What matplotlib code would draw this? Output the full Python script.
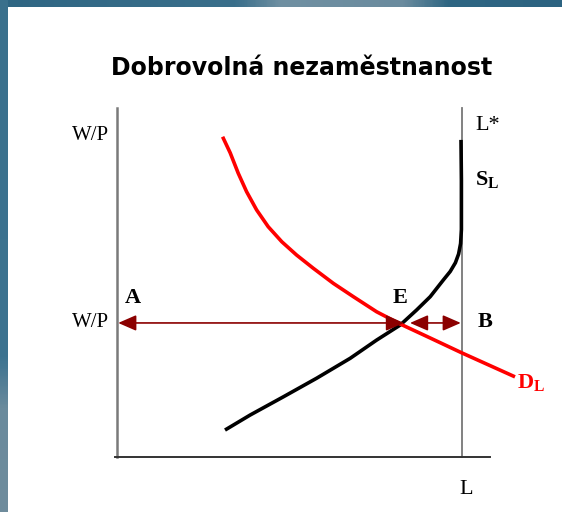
import numpy as np
import matplotlib.pyplot as plt
from matplotlib.colors import LinearSegmentedColormap

plt.rcParams['mathtext.fontset'] = 'custom'
plt.rcParams['mathtext.rm'] = 'Liberation Serif'
plt.rcParams['mathtext.bf'] = 'Liberation Serif:bold'

# Curve data (L on x axis, W/P on y axis, both 0..100)
sl_x = [27.0, 33.3, 41.6, 49.9, 58.3, 64.9, 70.8, 74.9, 78.3, 81.6, 83.3,
        84.6, 85.4, 85.9, 86.1, 86.1, 86.1, 86.0]
sl_y = [7.7, 12.0, 17.2, 22.5, 28.2, 33.4, 37.7, 42.0, 45.8, 50.6, 53.0,
        55.5, 58.0, 61.0, 65.0, 70.0, 79.1, 90.6]

dl_x = [26.4, 28.3, 30.3, 32.4, 34.9, 37.8, 41.2, 44.9, 49.1, 54.1, 59.1,
        64.9, 70.8, 78.3, 86.3, 99.5]
dl_y = [91.5, 86.9, 81.1, 75.8, 70.6, 65.8, 61.5, 57.7, 53.9, 49.6, 45.8,
        41.5, 38.0, 34.0, 29.7, 22.9]

l_star = 86.25      # full employment L*
wage = 38.3         # real wage W/P level
e_x = 70.75         # equilibrium employment

title = "Dobrovolná nezaměstnanost"

fig = plt.figure(figsize=(5.62, 5.12), dpi=100)
fig.patch.set_facecolor('white')

# background frame (blue strips at top and left)
bg = fig.add_axes([0, 0, 1, 1], zorder=-1)
bg.set_xlim(0, 562)
bg.set_ylim(512, 0)
bg.axis('off')
top_cmap = LinearSegmentedColormap.from_list(
    'top', [(0, '#2f6683'), (0.42, '#3a6f8b'), (0.5, '#7090a2'),
            (0.72, '#6a8b9e'), (0.8, '#2f6683'), (1, '#2c6381')])
bg.imshow(np.linspace(0, 1, 200)[None, :], cmap=top_cmap, aspect='auto',
          extent=(0, 562, 7, 0))
left_cmap = LinearSegmentedColormap.from_list(
    'left', [(0, '#3a708c'), (0.7, '#3d7390'), (0.8, '#6a8a9c'), (1, '#6f8c9c')])
bg.imshow(np.linspace(0, 1, 200)[:, None], cmap=left_cmap, aspect='auto',
          extent=(0, 8, 512, 0))

ax = fig.add_axes([117 / 562, 55 / 512, 400 / 562, 350 / 512])
ax.set_xlim(0, 100)
ax.set_ylim(0, 100)
ax.axis('off')

# axes lines
ax.plot([0, 0], [0, 99.7], color='#7a7a7a', lw=1.8, clip_on=False)
ax.plot([l_star, l_star], [0, 99.7], color='#777777', lw=1.3, clip_on=False)
ax.plot([-0.5, 93.3], [0, 0], color='#333333', lw=1.4, clip_on=False)

# supply and demand curves
ax.plot(sl_x, sl_y, color='black', lw=2.6, solid_capstyle='butt',
        solid_joinstyle='round', clip_on=False)
ax.plot(dl_x, dl_y, color='red', lw=2.6, solid_capstyle='butt',
        solid_joinstyle='round', clip_on=False)

# arrows
arrow_kw = dict(arrowstyle='<|-|>,head_length=0.55,head_width=0.24',
                color='#8b0000', lw=1.2, mutation_scale=20, shrinkA=0, shrinkB=0)
ax.annotate('', xy=(0.3, wage), xytext=(e_x + 1.0, wage), arrowprops=arrow_kw)
ax.annotate('', xy=(l_star - 0.3, wage), xytext=(e_x + 2.5, wage), arrowprops=arrow_kw)

# labels
serif = 'Liberation Serif'
ax.text(-6.5, 92, 'W/P', family=serif, fontsize=15, ha='center', va='center')
ax.text(-6.5, wage, 'W/P', family=serif, fontsize=15, ha='center', va='center')
ax.text(4, 45.4, 'A', family=serif, fontsize=16, fontweight='bold', ha='center', va='center')
ax.text(70.8, 45.4, 'E', family=serif, fontsize=16, fontweight='bold', ha='center', va='center')
ax.text(92, 38.6, 'B', family=serif, fontsize=16, fontweight='bold', ha='center', va='center')
ax.text(89.5, 94.6, 'L*', family=serif, fontsize=16, ha='left', va='center')
ax.text(89.5, 79.1, r'S$_{\mathbf{L}}$', family=serif, fontsize=16, fontweight='bold',
        ha='left', va='center')
ax.text(100.0, 21.0, r'D$_{\mathbf{L}}$', family=serif, fontsize=16, fontweight='bold',
        color='red', ha='left', va='center')
ax.text(87.25, -9.3, 'L', family=serif, fontsize=16, ha='center', va='center')

fig.text(302 / 562, 1 - 68 / 512, title, fontsize=17, fontweight='bold',
         ha='center', va='center', family='DejaVu Sans')

fig.savefig('out.png', dpi=100)
